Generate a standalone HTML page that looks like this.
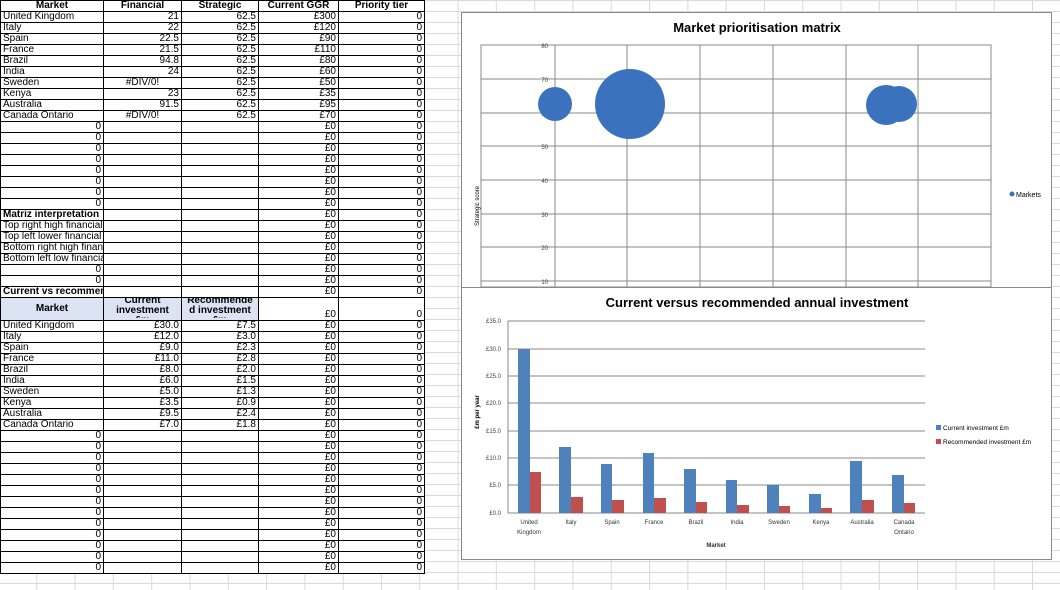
<!DOCTYPE html>
<html><head><meta charset="utf-8"><style>
body{margin:0;width:1060px;height:590px;overflow:hidden;background:#fff;font-family:"Liberation Sans",sans-serif;position:relative}
#grid{position:absolute;left:0;top:0;width:1060px;height:590px;
background-image:linear-gradient(to right,#dadada 1px,transparent 1px),linear-gradient(to bottom,#dadada 1px,transparent 1px);
background-size:38.3px 11px,38px 11px;background-position:-2px 0,0 0}
table{position:absolute;left:0;top:0;border-collapse:collapse;font-size:10px;background:#fff}
td{border:1px solid #000;height:10px;padding:0 2px;line-height:10px;white-space:nowrap;overflow:hidden;max-width:0}
td.r{text-align:right}
th{background:#dce3f2;border:1px solid #000;font-size:10px;height:10px;line-height:10px;padding:0;overflow:hidden}
tr.h1 th{background:#fff}
.b{font-weight:bold}
</style></head><body>
<div id="grid"></div>
<table>
<colgroup><col style="width:103px"><col style="width:78px"><col style="width:77px"><col style="width:80px"><col style="width:86px"></colgroup>
<tr class="h1"><th>Market</th><th>Financial</th><th>Strategic</th><th>Current GGR</th><th>Priority tier</th></tr>
<tr><td>United Kingdom</td><td class="r">21</td><td class="r">62.5</td><td class="r">£300</td><td class="r">0</td></tr>
<tr><td>Italy</td><td class="r">22</td><td class="r">62.5</td><td class="r">£120</td><td class="r">0</td></tr>
<tr><td>Spain</td><td class="r">22.5</td><td class="r">62.5</td><td class="r">£90</td><td class="r">0</td></tr>
<tr><td>France</td><td class="r">21.5</td><td class="r">62.5</td><td class="r">£110</td><td class="r">0</td></tr>
<tr><td>Brazil</td><td class="r">94.8</td><td class="r">62.5</td><td class="r">£80</td><td class="r">0</td></tr>
<tr><td>India</td><td class="r">24</td><td class="r">62.5</td><td class="r">£60</td><td class="r">0</td></tr>
<tr><td>Sweden</td><td style="text-align:center">#DIV/0!</td><td class="r">62.5</td><td class="r">£50</td><td class="r">0</td></tr>
<tr><td>Kenya</td><td class="r">23</td><td class="r">62.5</td><td class="r">£35</td><td class="r">0</td></tr>
<tr><td>Australia</td><td class="r">91.5</td><td class="r">62.5</td><td class="r">£95</td><td class="r">0</td></tr>
<tr><td>Canada Ontario</td><td style="text-align:center">#DIV/0!</td><td class="r">62.5</td><td class="r">£70</td><td class="r">0</td></tr>
<tr><td class="r">0</td><td></td><td></td><td class="r">£0</td><td class="r">0</td></tr>
<tr><td class="r">0</td><td></td><td></td><td class="r">£0</td><td class="r">0</td></tr>
<tr><td class="r">0</td><td></td><td></td><td class="r">£0</td><td class="r">0</td></tr>
<tr><td class="r">0</td><td></td><td></td><td class="r">£0</td><td class="r">0</td></tr>
<tr><td class="r">0</td><td></td><td></td><td class="r">£0</td><td class="r">0</td></tr>
<tr><td class="r">0</td><td></td><td></td><td class="r">£0</td><td class="r">0</td></tr>
<tr><td class="r">0</td><td></td><td></td><td class="r">£0</td><td class="r">0</td></tr>
<tr><td class="r">0</td><td></td><td></td><td class="r">£0</td><td class="r">0</td></tr>
<tr><td class="b">Matriz interpretation</td><td></td><td></td><td class="r">£0</td><td class="r">0</td></tr>
<tr><td>Top right  high financial a</td><td></td><td></td><td class="r">£0</td><td class="r">0</td></tr>
<tr><td>Top left  lower financial s</td><td></td><td></td><td class="r">£0</td><td class="r">0</td></tr>
<tr><td>Bottom right  high financ</td><td></td><td></td><td class="r">£0</td><td class="r">0</td></tr>
<tr><td>Bottom left  low financia</td><td></td><td></td><td class="r">£0</td><td class="r">0</td></tr>
<tr><td class="r">0</td><td></td><td></td><td class="r">£0</td><td class="r">0</td></tr>
<tr><td class="r">0</td><td></td><td></td><td class="r">£0</td><td class="r">0</td></tr>
<tr><td class="b">Current vs recommended</td><td></td><td></td><td class="r">£0</td><td class="r">0</td></tr>
<tr style="height:22px"><th style="height:22px">Market</th><th style="height:22px;line-height:10px"><div style="height:22px;overflow:hidden;margin-top:-4px">Current<br>investment<br>£m</div></th><th style="height:22px"><div style="height:22px;overflow:hidden;margin-top:-4px">Recommende<br>d investment<br>£m</div></th><td class="r" style="vertical-align:bottom">£0</td><td class="r" style="vertical-align:bottom">0</td></tr>
<tr><td>United Kingdom</td><td class="r">£30.0</td><td class="r">£7.5</td><td class="r">£0</td><td class="r">0</td></tr>
<tr><td>Italy</td><td class="r">£12.0</td><td class="r">£3.0</td><td class="r">£0</td><td class="r">0</td></tr>
<tr><td>Spain</td><td class="r">£9.0</td><td class="r">£2.3</td><td class="r">£0</td><td class="r">0</td></tr>
<tr><td>France</td><td class="r">£11.0</td><td class="r">£2.8</td><td class="r">£0</td><td class="r">0</td></tr>
<tr><td>Brazil</td><td class="r">£8.0</td><td class="r">£2.0</td><td class="r">£0</td><td class="r">0</td></tr>
<tr><td>India</td><td class="r">£6.0</td><td class="r">£1.5</td><td class="r">£0</td><td class="r">0</td></tr>
<tr><td>Sweden</td><td class="r">£5.0</td><td class="r">£1.3</td><td class="r">£0</td><td class="r">0</td></tr>
<tr><td>Kenya</td><td class="r">£3.5</td><td class="r">£0.9</td><td class="r">£0</td><td class="r">0</td></tr>
<tr><td>Australia</td><td class="r">£9.5</td><td class="r">£2.4</td><td class="r">£0</td><td class="r">0</td></tr>
<tr><td>Canada  Ontario</td><td class="r">£7.0</td><td class="r">£1.8</td><td class="r">£0</td><td class="r">0</td></tr>
<tr><td class="r">0</td><td></td><td></td><td class="r">£0</td><td class="r">0</td></tr>
<tr><td class="r">0</td><td></td><td></td><td class="r">£0</td><td class="r">0</td></tr>
<tr><td class="r">0</td><td></td><td></td><td class="r">£0</td><td class="r">0</td></tr>
<tr><td class="r">0</td><td></td><td></td><td class="r">£0</td><td class="r">0</td></tr>
<tr><td class="r">0</td><td></td><td></td><td class="r">£0</td><td class="r">0</td></tr>
<tr><td class="r">0</td><td></td><td></td><td class="r">£0</td><td class="r">0</td></tr>
<tr><td class="r">0</td><td></td><td></td><td class="r">£0</td><td class="r">0</td></tr>
<tr><td class="r">0</td><td></td><td></td><td class="r">£0</td><td class="r">0</td></tr>
<tr><td class="r">0</td><td></td><td></td><td class="r">£0</td><td class="r">0</td></tr>
<tr><td class="r">0</td><td></td><td></td><td class="r">£0</td><td class="r">0</td></tr>
<tr><td class="r">0</td><td></td><td></td><td class="r">£0</td><td class="r">0</td></tr>
<tr><td class="r">0</td><td></td><td></td><td class="r">£0</td><td class="r">0</td></tr>
<tr><td class="r">0</td><td></td><td></td><td class="r">£0</td><td class="r">0</td></tr>
</table>
<svg style="position:absolute;left:0;top:0" width="1060" height="590" font-family="Liberation Sans,sans-serif">
<rect x="461.5" y="12.5" width="590" height="275" fill="#fff" stroke="#888"/>
<text x="757" y="32" font-size="13" font-weight="bold" text-anchor="middle">Market prioritisation matrix</text>
<g stroke="#888" fill="none">
<rect x="481" y="45" width="510" height="242"/>
<path d="M481 79H991M481 113H991M481 146H991M481 180H991M481 214H991M481 247H991M481 281H991M555 45V287M627 45V287M700 45V287M773 45V287M846 45V287M918 45V287"/>
</g>
<g font-size="6" fill="#444" text-anchor="end"><text x="548" y="48">80</text><text x="548" y="82">70</text><text x="548" y="116">60</text><text x="548" y="149">50</text><text x="548" y="183">40</text><text x="548" y="217">30</text><text x="548" y="250">20</text><text x="548" y="284">10</text></g>
<text transform="translate(479,206) rotate(-90)" font-size="6" text-anchor="middle">Strategic score</text>
<g fill="#3a72bd"><ellipse cx="555" cy="104" rx="17" ry="17"/><ellipse cx="630" cy="104" rx="35" ry="35"/><ellipse cx="886" cy="105" rx="20" ry="20"/><ellipse cx="899" cy="104" rx="18" ry="18"/></g>
<circle cx="1012" cy="194" r="2.5" fill="#3a72bd"/><text x="1016" y="197" font-size="7">Markets</text>
<rect x="461.5" y="287.5" width="590" height="272" fill="#fff" stroke="#888"/>
<text x="757" y="307" font-size="13" font-weight="bold" text-anchor="middle">Current versus recommended annual investment</text>
<g stroke="#888"><path d="M508 321H925M508 349H925M508 376H925M508 403H925M508 431H925M508 458H925M508 485H925M508 513H925M508 321V513"/></g>
<g font-size="6" fill="#444" text-anchor="end"><text x="501" y="323">£35.0</text><text x="501" y="351">£30.0</text><text x="501" y="378">£25.0</text><text x="501" y="405">£20.0</text><text x="501" y="433">£15.0</text><text x="501" y="460">£10.0</text><text x="501" y="487">£5.0</text><text x="501" y="515">£0.0</text></g>
<text transform="translate(479,412) rotate(-90)" font-size="6" font-weight="bold" text-anchor="middle">£m per year</text>
<g font-size="6" fill="#333" text-anchor="middle">
<text x="529" y="524">United</text><text x="529" y="534">Kingdom</text><text x="571" y="524">Italy</text><text x="612" y="524">Spain</text><text x="654" y="524">France</text><text x="696" y="524">Brazil</text><text x="737" y="524">India</text><text x="779" y="524">Sweden</text><text x="821" y="524">Kenya</text><text x="862" y="524">Australia</text><text x="904" y="524">Canada</text><text x="904" y="534">Ontario</text>
<text x="716" y="547" font-weight="bold">Market</text></g>
<rect x="936" y="425" width="5" height="5" fill="#4f81bd"/><text x="943" y="430" font-size="6.5">Current investment £m</text>
<rect x="936" y="439" width="5" height="5" fill="#c0504d"/><text x="943" y="444" font-size="6.5">Recommended investment £m</text>
<g>
<rect x="518" y="349" width="12" height="164" fill="#4f81bd"/><rect x="530" y="472" width="11" height="41" fill="#c0504d"/>
<rect x="559" y="447" width="12" height="66" fill="#4f81bd"/><rect x="571" y="497" width="12" height="16" fill="#c0504d"/>
<rect x="601" y="464" width="11" height="49" fill="#4f81bd"/><rect x="612" y="500" width="12" height="13" fill="#c0504d"/>
<rect x="643" y="453" width="11" height="60" fill="#4f81bd"/><rect x="654" y="498" width="12" height="15" fill="#c0504d"/>
<rect x="684" y="469" width="12" height="44" fill="#4f81bd"/><rect x="696" y="502" width="11" height="11" fill="#c0504d"/>
<rect x="726" y="480" width="11" height="33" fill="#4f81bd"/><rect x="737" y="505" width="12" height="8" fill="#c0504d"/>
<rect x="767" y="485" width="12" height="28" fill="#4f81bd"/><rect x="779" y="506" width="11" height="7" fill="#c0504d"/>
<rect x="809" y="494" width="12" height="19" fill="#4f81bd"/><rect x="821" y="508" width="11" height="5" fill="#c0504d"/>
<rect x="850" y="461" width="12" height="52" fill="#4f81bd"/><rect x="862" y="500" width="12" height="13" fill="#c0504d"/>
<rect x="892" y="475" width="12" height="38" fill="#4f81bd"/><rect x="904" y="503" width="11" height="10" fill="#c0504d"/>
</g>
</svg>
</body></html>
